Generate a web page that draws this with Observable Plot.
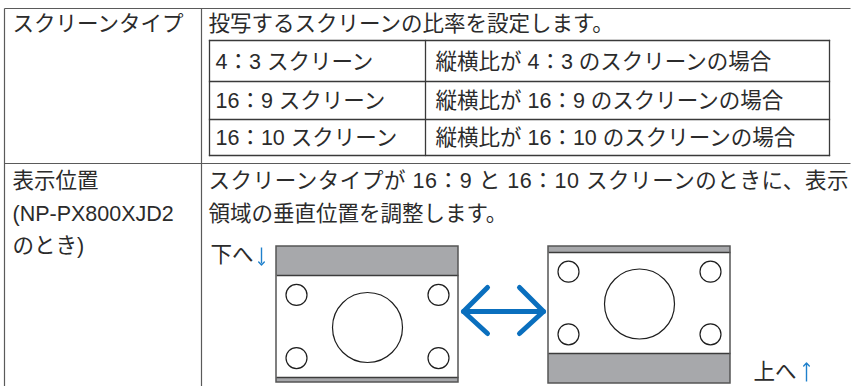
<!DOCTYPE html>
<html>
<head>
<meta charset="utf-8">
<script src="https://cdn.jsdelivr.net/npm/d3@7"></script>
<script src="https://cdn.jsdelivr.net/npm/@observablehq/plot@0.6"></script>
<style>
  html, body { margin: 0; padding: 0; background: #fff; }
  #chart svg { display: block; }
</style>
</head>
<body>
<div id="chart"></div>
<script>
// ---- content ----
const sectionNames = [
  ["スクリーンタイプ"],
  ["表示位置", "(NP-PX800XJD2", "のとき)"]
];
const sectionDescriptions = [
  ["投写するスクリーンの比率を設定します。"],
  ["スクリーンタイプが 16：9 と 16：10 スクリーンのときに、表示", "領域の垂直位置を調整します。"]
];
// lines that are justified to the full cell width in the original layout
const justifiedLines = ["スクリーンタイプが 16：9 と 16：10 スクリーンのときに、表示"];
const screenTypes = ["4：3 スクリーン", "16：9 スクリーン", "16：10 スクリーン"];
const screenMeanings = ["縦横比が 4：3 のスクリーンの場合", "縦横比が 16：9 のスクリーンの場合", "縦横比が 16：10 のスクリーンの場合"];
const positionLabels = ["下へ", "上へ"];
const positionArrows = ["↓", "↑"];
// letterbox proportions of each illustrated screen (top band, picture, bottom band) in relative units
const bandTop = [29, 6];
const bandPicture = [102, 101];
const bandBottom = [5, 30];

// ---- layout ----
const W = 851, H = 386;
const L = {
  left: 4, colX: 201, right: 850, top: 8, rowY: 163,
  textX: 12, descX: 208, descRight: 848,
  rowTextY: [23.5, 181], lineGap: 32.5,
  inner: {x1: 209, x2: 829, mid: 425, y: [40, 81, 119, 155]},
  screens: {x: [276, 548], y1: 246, w: 182},
  label: [{x: 210, y: 255}, {x: 753, y: 372}]
};
const font = "'Liberation Sans', 'Noto Sans CJK JP', sans-serif";
const textColor = "#2b2b2b";
const blue = "#0a6fbe";
const fs = 21.5;

// ---- derived geometry ----
const gridLines = [
  {x1: L.left, y1: L.top, x2: L.right, y2: L.top},
  {x1: L.left, y1: L.rowY, x2: L.right, y2: L.rowY},
  {x1: L.left, y1: L.top, x2: L.left, y2: H + 2},
  {x1: L.colX, y1: L.top, x2: L.colX, y2: H + 2}
];
const ys = L.inner.y;
const innerLines = [
  ...ys.map(y => ({x1: L.inner.x1, y1: y, x2: L.inner.x2, y2: y})),
  ...[L.inner.x1, L.inner.mid, L.inner.x2].map(x => ({x1: x, y1: ys[0], x2: x, y2: ys[ys.length - 1]}))
];

const texts = [];
sectionNames.forEach((lines, i) => lines.forEach((t, j) =>
  texts.push({x: L.textX, y: L.rowTextY[i] + j * L.lineGap, t})));
sectionDescriptions.forEach((lines, i) => lines.forEach((t, j) =>
  texts.push({x: L.descX, y: L.rowTextY[i] + j * L.lineGap, t})));
screenTypes.forEach((t, i) => texts.push({x: L.inner.x1 + 6, y: (ys[i] + ys[i + 1]) / 2 + 1, t}));
screenMeanings.forEach((t, i) => texts.push({x: L.inner.mid + 10, y: (ys[i] + ys[i + 1]) / 2 + 1, t}));
positionLabels.forEach((t, i) => texts.push({x: L.label[i].x, y: L.label[i].y, t}));

const screenRects = [], bandRects = [], bandLines = [], smallCircles = [], bigCircles = [];
bandTop.forEach((bt, i) => {
  const x1 = L.screens.x[i], x2 = x1 + L.screens.w;
  const y0 = L.screens.y1, yA = y0 + bt, yB = yA + bandPicture[i], yC = yB + bandBottom[i];
  screenRects.push({x1, x2, y1: y0, y2: yC});
  bandRects.push({x1, x2, y1: y0, y2: yA}, {x1, x2, y1: yB, y2: yC});
  bandLines.push({x1, x2, y1: yA, y2: yA}, {x1, x2, y1: yB, y2: yB});
  const ph = bandPicture[i];
  const cy1 = yA + ph * 0.19, cy2 = yA + ph * 0.81;
  smallCircles.push({x: x1 + 20, y: cy1}, {x: x2 - 20, y: cy1}, {x: x1 + 20, y: cy2}, {x: x2 - 20, y: cy2});
  bigCircles.push({x: (x1 + x2) / 2, y: yA + ph * 0.51});
});

// double-headed arrow between the screens
const ax1 = L.screens.x[0] + L.screens.w + 5, ax2 = L.screens.x[1] - 5, ay = 311, ah = 24;
const arrowPaths = [
  [{x: ax1, y: ay}, {x: ax2, y: ay}],
  [{x: ax1 + ah, y: ay - ah}, {x: ax1, y: ay}, {x: ax1 + ah, y: ay + ah - 2}],
  [{x: ax2 - ah, y: ay - ah}, {x: ax2, y: ay}, {x: ax2 - ah, y: ay + ah - 2}]
].flatMap((pts, k) => pts.map(p => ({...p, k})));

// small direction arrows next to labels
const smallArrows = positionArrows.map((a, i) => ({
  x: L.label[i].x + (i === 0 ? 51 : 53),
  yFrom: L.label[i].y + (a === "↓" ? -8 : 9),
  yTo: L.label[i].y + (a === "↓" ? 8 : -8)
}));

const plot = Plot.plot({
  width: W, height: H,
  margin: 0,
  x: {domain: [0, W], range: [0, W], axis: null},
  y: {domain: [0, H], range: [0, H], axis: null},
  style: {fontFamily: font, background: "#fff"},
  marks: [
    Plot.link(gridLines, {x1: "x1", y1: "y1", x2: "x2", y2: "y2", stroke: "#5a5a5a", strokeWidth: 1.2}),
    Plot.link(innerLines, {x1: "x1", y1: "y1", x2: "x2", y2: "y2", stroke: "#3a3a3a", strokeWidth: 1.3, strokeLinecap: "square"}),
    Plot.rect(screenRects, {x1: "x1", x2: "x2", y1: "y1", y2: "y2", fill: "#fff", stroke: "none"}),
    Plot.rect(bandRects, {x1: "x1", x2: "x2", y1: "y1", y2: "y2", fill: "#a7a8ab"}),
    Plot.link(bandLines, {x1: "x1", y1: "y1", x2: "x2", y2: "y2", stroke: "#3c3c3c", strokeWidth: 1.5}),
    Plot.rect(screenRects, {x1: "x1", x2: "x2", y1: "y1", y2: "y2", fill: "none", stroke: "#555", strokeWidth: 1.5}),
    Plot.dot(smallCircles, {x: "x", y: "y", r: 10.5, stroke: "#1e1e1e", strokeWidth: 1.2, fill: "#fff"}),
    Plot.dot(bigCircles, {x: "x", y: "y", r: 35, stroke: "#1e1e1e", strokeWidth: 1.2, fill: "#fff"}),
    Plot.line(arrowPaths, {x: "x", y: "y", z: "k", stroke: blue, strokeWidth: 5, strokeLinecap: "round", strokeLinejoin: "round", curve: "linear"}),
    Plot.link(smallArrows, {x1: "x", x2: "x", y1: "yFrom", y2: "yTo", stroke: "#1f80cc", strokeWidth: 1.4, markerEnd: "arrow"}),
    Plot.text(texts, {x: "x", y: "y", text: "t", textAnchor: "start", lineAnchor: "middle", fontSize: fs, fill: textColor, fontFamily: font})
  ]
});
// justify the wrapped description line across its cell, as in the original typesetting
d3.select(plot).selectAll("text").each(function () {
  if (justifiedLines.includes(this.textContent)) {
    this.setAttribute("textLength", L.descRight - L.descX);
    this.setAttribute("lengthAdjust", "spacing");
  }
});
document.getElementById("chart").appendChild(plot);
</script>
</body>
</html>
